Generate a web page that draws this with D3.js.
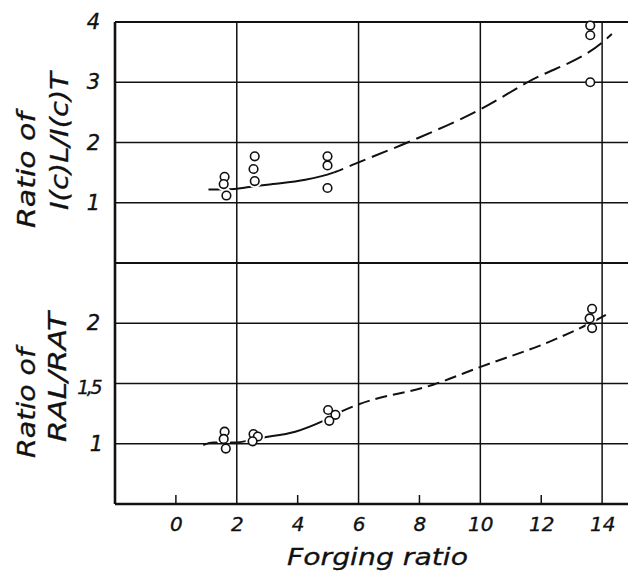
<!DOCTYPE html>
<html>
<head>
<meta charset="utf-8">
<script src="https://cdn.jsdelivr.net/npm/d3@7"></script>
<style>
  html, body { margin: 0; padding: 0; background: #fff; }
  svg { display: block; }
  text { font-family: "DejaVu Sans", "Liberation Sans", sans-serif; font-style: italic; fill: #111; }
</style>
</head>
<body>
<script>
// ---------- data ----------
const xTickValues = [0, 2, 4, 6, 8, 10, 12, 14];
const xTickLabels = ["0", "2", "4", "6", "8", "10", "12", "14"];
const xGridValues = [-2, 2, 6, 10, 14];
const xShortTicks = [0, 4, 8, 12];

const topTickValues = [1, 2, 3, 4];
const topTickLabels = ["1", "2", "3", "4"];
const topGridValues = [0, 1, 2, 3, 4];

const botTickValues = [1, 1.5, 2];
const botTickLabels = ["1", "1,5", "2"];
const botGridValues = [0.5, 1, 1.5, 2];

// upper panel: I(c)L / I(c)T measurements
const topPointX = [1.60, 1.57, 1.66, 2.59, 2.55, 2.59, 4.98, 4.98, 4.98, 13.61, 13.61, 13.61];
const topPointY = [1.43, 1.31, 1.12, 1.77, 1.56, 1.36, 1.77, 1.62, 1.245, 3.94, 3.78, 3.00];
// upper fitted curve
const topCurveX = [1.07, 1.92, 2.40, 3.00, 4.25, 5.17, 5.90, 7.70, 10.00, 11.55, 14.00, 14.32];
const topCurveY = [1.22, 1.23, 1.26, 1.30, 1.38, 1.50, 1.65, 2.02, 2.55, 3.00, 3.66, 3.80];

// lower panel: RAL / RAT measurements
const botPointX = [1.60, 1.57, 1.64, 2.55, 2.69, 2.52, 5.00, 5.24, 5.04, 13.67, 13.59, 13.67];
const botPointY = [1.10, 1.04, 0.96, 1.08, 1.06, 1.02, 1.28, 1.24, 1.19, 2.12, 2.04, 1.96];
// lower fitted curve
const botCurveX = [0.90, 1.23, 1.90, 2.83, 3.92, 4.84, 5.46, 5.93, 8.45, 10.03, 12.30, 13.60, 14.20];
const botCurveY = [0.99, 1.01, 1.01, 1.05, 1.10, 1.19, 1.27, 1.32, 1.49, 1.64, 1.85, 2.00, 2.08];

const topSolidUntil = 5.2;
const botSolidUntil = 5.3;

// ---------- layout ----------
const W = 628, H = 572;
const svg = d3.select("body").append("svg").attr("width", W).attr("height", H);

const x = d3.scaleLinear().domain([-2, 14.85]).range([115, 628]);
const yTop = d3.scaleLinear().domain([0, 4]).range([263, 22]);
const yBot = d3.scaleLinear().domain([0.5, 2.5]).range([504, 263]);

const ink = "#111";

// ---------- grid ----------
const grid = svg.append("g").attr("stroke", ink).attr("fill", "none");

grid.selectAll("line.v").data(xGridValues).join("line")
  .attr("x1", d => x(d)).attr("x2", d => x(d))
  .attr("y1", yTop(4)).attr("y2", yBot(0.5))
  .attr("stroke-width", d => d === -2 ? 2.6 : 1.5);

grid.selectAll("line.ht").data(topGridValues).join("line")
  .attr("x1", x(-2)).attr("x2", W)
  .attr("y1", d => yTop(d)).attr("y2", d => yTop(d))
  .attr("stroke-width", d => (d === 0 ? 2 : d === 4 ? 2.2 : 1.5));

grid.selectAll("line.hb").data(botGridValues).join("line")
  .attr("x1", x(-2)).attr("x2", W)
  .attr("y1", d => yBot(d)).attr("y2", d => yBot(d))
  .attr("stroke-width", d => d === 0.5 ? 2.6 : 1.5);

grid.selectAll("line.t").data(xShortTicks).join("line")
  .attr("x1", d => x(d)).attr("x2", d => x(d))
  .attr("y1", yBot(0.5)).attr("y2", yBot(0.5) - 9)
  .attr("stroke-width", 1.5);

// ---------- axes (labels) ----------
function styleTicks(sel, size) {
  sel.select(".domain").remove();
  sel.selectAll("text").attr("font-size", size).attr("font-family", null)
    .attr("fill", ink).attr("stroke", ink).attr("stroke-width", 0.35);
}
const xAxis = svg.append("g").attr("transform", `translate(0,${yBot(0.5)})`)
  .call(d3.axisBottom(x).tickValues(xTickValues).tickSize(0).tickPadding(13)
    .tickFormat((d, i) => xTickLabels[i]));
styleTicks(xAxis, 20);

const yAxisTop = svg.append("g").attr("transform", `translate(${x(-2)},0)`)
  .call(d3.axisLeft(yTop).tickValues(topTickValues).tickSize(0).tickPadding(15)
    .tickFormat((d, i) => topTickLabels[i]));
styleTicks(yAxisTop, 21);

const yAxisBot = svg.append("g").attr("transform", `translate(${x(-2)},0)`)
  .call(d3.axisLeft(yBot).tickValues(botTickValues).tickSize(0).tickPadding(15)
    .tickFormat((d, i) => botTickLabels[i]));
styleTicks(yAxisBot, 21);
yAxisBot.selectAll("text")
  .filter(d => d === 1.5)
  .attr("font-size", 19).attr("letter-spacing", -2.5).attr("dy", "0.5em");
yAxisBot.selectAll("text")
  .filter(d => d === 1)
  .attr("dx", 3);

// ---------- titles ----------
function vTitle(txt, cx, cy, len, size) {
  svg.append("text")
    .attr("transform", `translate(${cx},${cy}) rotate(-90)`)
    .attr("text-anchor", "middle")
    .attr("dominant-baseline", "central")
    .attr("font-size", size)
    .attr("textLength", len)
    .attr("lengthAdjust", "spacingAndGlyphs")
    .attr("stroke", ink).attr("stroke-width", 0.3)
    .text(txt);
}
vTitle("Ratio of", 26, 170, 116, 25);
vTitle("I(c)L/I(c)T", 59, 141, 138, 25);
vTitle("Ratio of", 26, 403, 110, 25);
vTitle("RAL/RAT", 57, 377, 130, 25);

svg.append("text")
  .attr("x", 287).attr("y", 565)
  .attr("font-size", 23)
  .attr("textLength", 181)
  .attr("lengthAdjust", "spacingAndGlyphs")
  .attr("stroke", ink).attr("stroke-width", 0.3)
  .text("Forging ratio");

// ---------- curves ----------
const defs = svg.append("defs");

function makeMask(id, px, py, ys) {
  const m = defs.append("mask").attr("id", id).attr("maskUnits", "userSpaceOnUse")
    .attr("x", 0).attr("y", 0).attr("width", W).attr("height", H);
  m.append("rect").attr("x", 0).attr("y", 0).attr("width", W).attr("height", H).attr("fill", "#fff");
  m.selectAll("circle").data(px).join("circle")
    .attr("cx", d => x(d)).attr("cy", (d, i) => ys(py[i])).attr("r", 7).attr("fill", "#000");
}
function makeClip(id, x0, x1) {
  defs.append("clipPath").attr("id", id)
    .append("rect").attr("x", x0).attr("y", 0).attr("width", x1 - x0).attr("height", H);
}

makeMask("mTop", topPointX, topPointY, yTop);
makeMask("mBot", botPointX, botPointY, yBot);
makeClip("cTopSolid", 0, x(topSolidUntil));
makeClip("cTopDash", x(topSolidUntil), W);
makeClip("cBotSolid", 0, x(botSolidUntil));
makeClip("cBotDash", x(botSolidUntil), W);

function drawCurve(cx, cy, ys, maskId, clipSolid, clipDash, dash) {
  const pts = cx.map((d, i) => [d, cy[i]]);
  const line = d3.line().x(d => x(d[0])).y(d => ys(d[1])).curve(d3.curveMonotoneX);
  const g = svg.append("g").attr("mask", `url(#${maskId})`);
  g.append("g").attr("clip-path", `url(#${clipSolid})`).append("path")
    .attr("d", line(pts)).attr("fill", "none").attr("stroke", ink).attr("stroke-width", 2);
  g.append("g").attr("clip-path", `url(#${clipDash})`).append("path")
    .attr("d", line(pts)).attr("fill", "none").attr("stroke", ink).attr("stroke-width", 2)
    .attr("stroke-dasharray", dash);
}
drawCurve(topCurveX, topCurveY, yTop, "mTop", "cTopSolid", "cTopDash", "17 7");
drawCurve(botCurveX, botCurveY, yBot, "mBot", "cBotSolid", "cBotDash", "12 6");

// ---------- points ----------
svg.append("g").selectAll("circle").data(topPointX).join("circle")
  .attr("cx", d => x(d)).attr("cy", (d, i) => yTop(topPointY[i])).attr("r", 4.3)
  .attr("fill", "#fff").attr("stroke", ink).attr("stroke-width", 1.6);
svg.append("g").selectAll("circle").data(botPointX).join("circle")
  .attr("cx", d => x(d)).attr("cy", (d, i) => yBot(botPointY[i])).attr("r", 4.3)
  .attr("fill", "#fff").attr("stroke", ink).attr("stroke-width", 1.6);
</script>
</body>
</html>
